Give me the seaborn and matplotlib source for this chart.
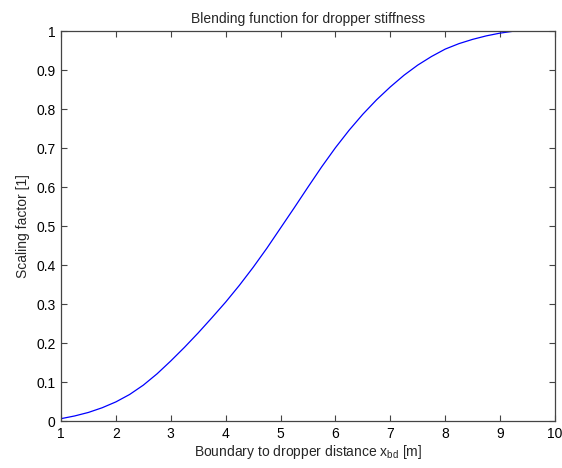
import pandas as pd
import seaborn as sns
import matplotlib.pyplot as plt

distance = [1.0, 1.25, 1.5, 1.75, 2.0, 2.25, 2.5, 2.75, 3.0, 3.25, 3.5, 3.75, 4.0, 4.25, 4.5, 4.75,
            5.0, 5.25, 5.5, 5.75, 6.0, 6.25, 6.5, 6.75, 7.0, 7.25, 7.5, 7.75, 8.0, 8.25, 8.5, 8.75,
            9.0, 9.25]
scaling = [0.006, 0.013, 0.022, 0.034, 0.049, 0.068, 0.092, 0.121, 0.154, 0.189, 0.226, 0.265,
           0.305, 0.348, 0.394, 0.443, 0.495, 0.547, 0.6, 0.652, 0.701, 0.746, 0.787, 0.824,
           0.857, 0.887, 0.913, 0.935, 0.954, 0.968, 0.979, 0.988, 0.995, 1.0]

xticks = list(range(1, 11))
yticks = [i / 10 for i in range(11)]
yticklabels = ['0', '0.1', '0.2', '0.3', '0.4', '0.5', '0.6', '0.7', '0.8', '0.9', '1']

sns.set_style('white')
plt.rcParams['font.family'] = ['Liberation Sans', 'DejaVu Sans']

df = pd.DataFrame({'distance': distance, 'scaling': scaling})

fig = plt.figure(figsize=(5.62, 4.68), dpi=100)
ax = fig.add_axes([0.1085, 0.1004, 0.879, 0.833])

sns.lineplot(x='distance', y='scaling', data=df, color='#0000ff', linewidth=0.9, ax=ax)

ax.set_xlim(1, 10)
ax.set_ylim(0, 1)
ax.set_xticks(xticks)
ax.set_yticks(yticks)
ax.set_yticklabels(yticklabels)
ax.tick_params(direction='in', length=4, width=0.8, labelsize=10, top=True, right=True,
               bottom=True, left=True, colors='#444444', labelcolor='black', pad=4)
for s in ax.spines.values():
    s.set_color('#444444')
    s.set_linewidth(0.9)

ax.set_title('Blending function for dropper stiffness', fontsize=10, pad=6)
ax.set_xlabel(r'Boundary to dropper distance x$_\mathregular{bd}$ [m]', fontsize=10, labelpad=2)
ax.set_ylabel('Scaling factor [1]', fontsize=10, labelpad=4)

fig.savefig('out.png', dpi=100)
